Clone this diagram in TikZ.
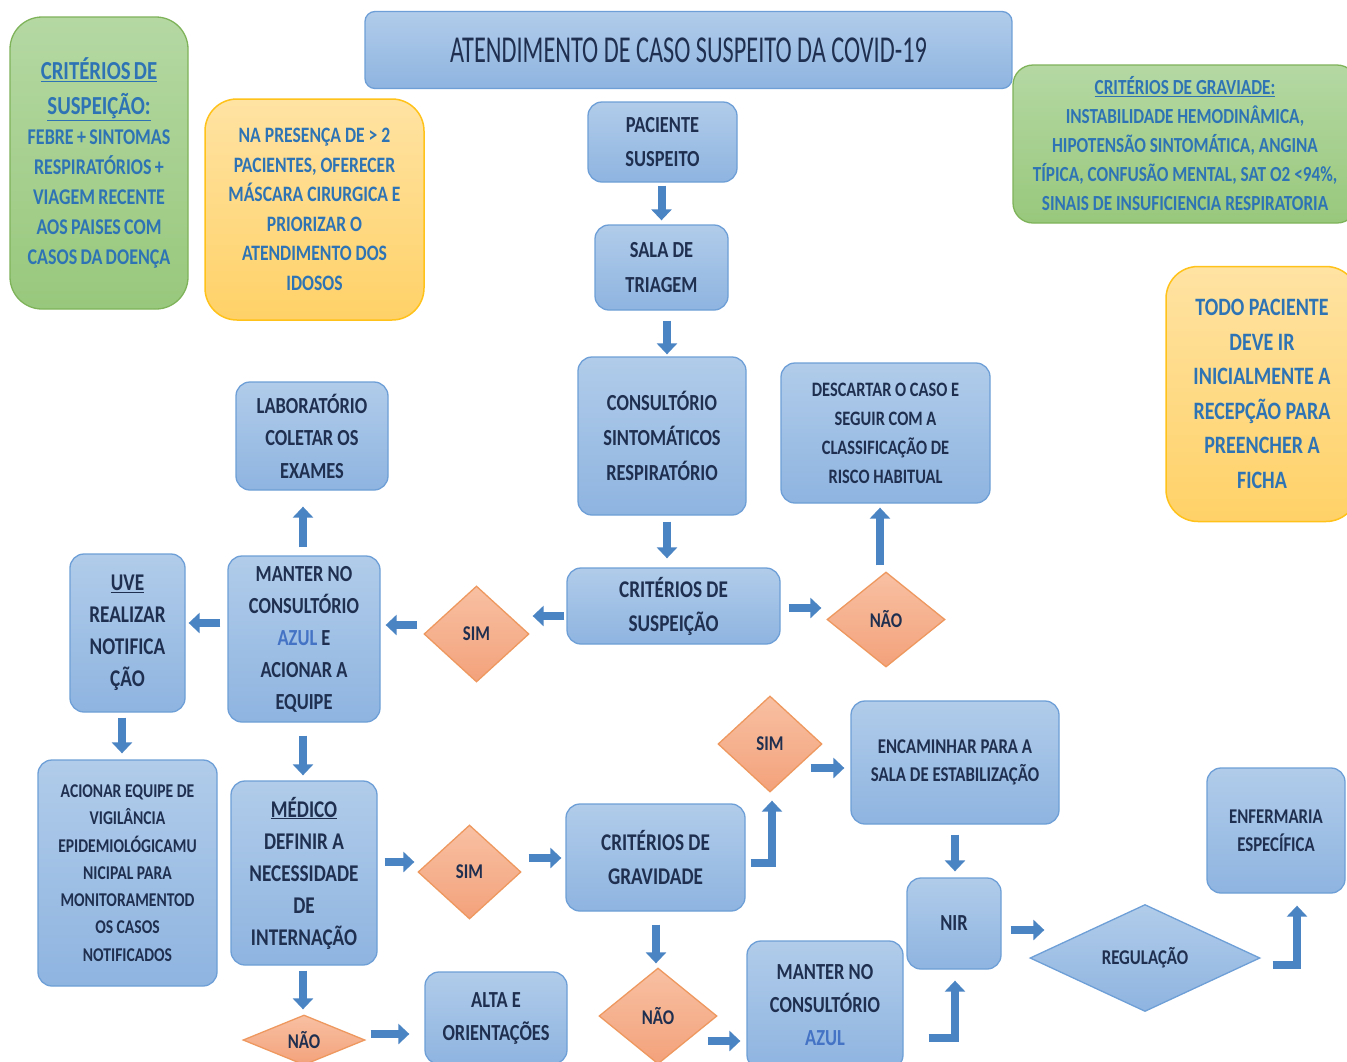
\documentclass[tikz,border=0pt]{standalone}
\usepackage{fontspec}
\setmainfont{Carlito}[FakeStretch=0.8]
\newfontfamily\tfont{Carlito}[FakeStretch=0.64]
\usetikzlibrary{shapes.geometric,arrows.meta,calc}
\definecolor{btop}{HTML}{B1CCEA}
\definecolor{bbot}{HTML}{8EB4E0}
\definecolor{bline}{HTML}{6E9FD6}
\definecolor{navy}{HTML}{1F2F4F}
\definecolor{otop}{HTML}{F8C0A2}
\definecolor{obot}{HTML}{F3A27B}
\definecolor{oline}{HTML}{EE985F}
\definecolor{gtop}{HTML}{B5D8A3}
\definecolor{gbot}{HTML}{98C87C}
\definecolor{gline}{HTML}{7FB35A}
\definecolor{ytop}{HTML}{FFE3A3}
\definecolor{ybot}{HTML}{FFD167}
\definecolor{yline}{HTML}{FFC21A}
\definecolor{infotxt}{HTML}{2E74B5}
\definecolor{azul}{HTML}{4472C4}
\definecolor{arr}{HTML}{4A84C2}
\newcommand{\fsz}[2]{\fontsize{#1}{#2}\selectfont}
\tikzset{
  bbox/.style={draw=bline, line width=1.3pt, rounded corners=14pt, top color=btop, bottom color=bbot,
    align=center, text=navy, font=\bfseries, inner sep=0pt},
  ddia/.style={diamond, draw=oline, line width=1.3pt, top color=otop, bottom color=obot,
    align=center, text=navy, font=\bfseries\fsz{21}{24}, inner sep=0pt},
  gbox/.style={draw=gline, line width=1.3pt, top color=gtop, bottom color=gbot,
    align=center, text=infotxt, font=\bfseries, inner sep=0pt},
  ybox/.style={draw=yline, line width=1.5pt, top color=ytop, bottom color=ybot,
    align=center, text=infotxt, font=\bfseries, inner sep=0pt},
  barrow/.style={draw=arr, line width=8pt, -{Triangle[length=11pt,width=20pt]}},
}
\begin{document}
\begin{tikzpicture}[x=1pt,y=-1pt]
\clip (0,0) rectangle (1347,1061);
\fill[white] (0,0) rectangle (1347,1061);

% title and info boxes
\node[bbox, font=\tfont\fsz{38}{40}, rounded corners=10pt, minimum width=647pt, minimum height=77pt] (title) at (688.5,50) {ATENDIMENTO DE CASO SUSPEITO DA COVID-19};

\node[gbox, rounded corners=32pt, minimum width=178pt, minimum height=292pt, text width=176pt] (gl) at (99,163)
 {\fsz{26}{35}\underline{CRITÉRIOS DE}\\\underline{SUSPEIÇÃO:}\par
  \fsz{22.5}{30}FEBRE + SINTOMAS\\RESPIRATÓRIOS +\\VIAGEM RECENTE\\AOS PAISES COM\\CASOS DA DOENÇA\par};

\node[ybox, rounded corners=32pt, minimum width=219pt, minimum height=221pt, font=\bfseries\fsz{22}{29.5}] (yl) at (314.5,209.5)
 {NA PRESENÇA DE > 2\\PACIENTES, OFERECER\\MÁSCARA CIRURGICA E\\PRIORIZAR O\\ATENDIMENTO DOS\\IDOSOS};

\node[gbox, rounded corners=20pt, minimum width=344pt, minimum height=158pt, font=\bfseries\fsz{21.5}{29}] (gr) at (1185,144)
 {\underline{CRITÉRIOS DE GRAVIADE:}\\INSTABILIDADE HEMODINÂMICA,\\HIPOTENSÃO SINTOMÁTICA, ANGINA\\TÍPICA, CONFUSÃO MENTAL, SAT O2 <94\%,\\SINAIS DE INSUFICIENCIA RESPIRATORIA};

\node[ybox, rounded corners=32pt, minimum width=192pt, minimum height=255pt, font=\bfseries\fsz{25}{34.5}] (yr) at (1262,394)
 {TODO PACIENTE\\DEVE IR\\INICIALMENTE A\\RECEPÇÃO PARA\\PREENCHER A\\FICHA};

% main flow
\node[bbox, minimum width=149pt, minimum height=80pt, font=\bfseries\fsz{23}{34}] (pac) at (662.5,142) {PACIENTE\\SUSPEITO};
\node[bbox, minimum width=133pt, minimum height=85pt, font=\bfseries\fsz{23}{35}] (tri) at (661.5,267.5) {SALA DE\\TRIAGEM};
\node[bbox, minimum width=168pt, minimum height=158pt, font=\bfseries\fsz{23}{35}] (cons) at (662,436) {CONSULTÓRIO\\SINTOMÁTICOS\\RESPIRATÓRIO};
\node[bbox, minimum width=209pt, minimum height=140pt, font=\bfseries\fsz{20.5}{29}] (desc) at (885.5,433) {DESCARTAR O CASO E\\SEGUIR COM A\\CLASSIFICAÇÃO DE\\RISCO HABITUAL};
\node[bbox, minimum width=152pt, minimum height=108pt, font=\bfseries\fsz{23}{32.5}] (lab) at (312,436) {LABORATÓRIO\\COLETAR OS\\EXAMES};
\node[bbox, minimum width=213pt, minimum height=76pt, font=\bfseries\fsz{24}{34}] (crit) at (673.5,606) {CRITÉRIOS DE\\SUSPEIÇÃO};
\node[ddia, minimum width=105pt, minimum height=96pt] (sim1) at (476.5,634) {SIM};
\node[ddia, minimum width=118pt, minimum height=95pt] (nao1) at (886,619.5) {NÃO};
\node[bbox, minimum width=152pt, minimum height=166pt, font=\bfseries\fsz{23}{32}] (man) at (304,639) {MANTER NO\\CONSULTÓRIO\\\textcolor{azul}{AZUL} E\\ACIONAR A\\EQUIPE};
\node[bbox, minimum width=115pt, minimum height=158pt, font=\bfseries\fsz{24}{32}] (uve) at (127.5,633) {\underline{UVE}\\REALIZAR\\NOTIFICA\\ÇÃO};
\node[bbox, minimum width=179pt, minimum height=226pt, font=\bfseries\fsz{19.5}{27.3}] (acion) at (127.5,873) {ACIONAR EQUIPE DE\\VIGILÂNCIA\\EPIDEMIOLÓGICAMU\\NICIPAL PARA\\MONITORAMENTOD\\OS CASOS\\NOTIFICADOS};
\node[bbox, minimum width=146pt, minimum height=184pt, font=\bfseries\fsz{24}{32}] (med) at (304,873) {\underline{MÉDICO}\\DEFINIR A\\NECESSIDADE\\DE\\INTERNAÇÃO};
\node[ddia, minimum width=103pt, minimum height=94pt] (sim2) at (469.5,872) {SIM};
\node[bbox, minimum width=179pt, minimum height=107pt, font=\bfseries\fsz{24}{34}] (grav) at (655.5,857.5) {CRITÉRIOS DE\\GRAVIDADE};
\node[ddia, minimum width=104pt, minimum height=96pt] (sim3) at (770,744) {SIM};
\node[bbox, minimum width=208pt, minimum height=123pt, font=\bfseries\fsz{21}{28}] (enc) at (955,762.5) {ENCAMINHAR PARA A\\SALA DE ESTABILIZAÇÃO};
\node[bbox, minimum width=94pt, minimum height=91pt, font=\bfseries\fsz{23}{30}] (nir) at (954,923.5) {NIR};
\node[diamond, draw=bline, line width=1.3pt, top color=btop, bottom color=bbot, text=navy, font=\bfseries\fsz{21}{24}, inner sep=0pt, minimum width=230pt, minimum height=96pt] (reg) at (1145,958) {REGULAÇÃO};
\node[bbox, minimum width=138pt, minimum height=125pt, font=\bfseries\fsz{21}{28}] (enf) at (1276,830.5) {ENFERMARIA\\ESPECÍFICA};
\node[ddia, minimum width=118pt, minimum height=96pt] (nao2) at (658,1016) {NÃO};
\node[bbox, minimum width=156pt, minimum height=128pt, font=\bfseries\fsz{23}{33}] (man2) at (825,1005) {MANTER NO\\CONSULTÓRIO\\\textcolor{azul}{AZUL}};
\node[ddia, minimum width=122pt, minimum height=50pt] (nao3) at (304,1040) {NÃO};
\node[bbox, minimum width=142pt, minimum height=92pt, font=\bfseries\fsz{23}{33}] (alta) at (496,1018) {ALTA E\\ORIENTAÇÕES};

% arrows
\draw[barrow] ($(pac.south)+(-1,3)$) -- ($(tri.north)+(0,-4)$);
\draw[barrow] ($(tri.south)+(5.5,10)$) -- ($(cons.north)+(5,-2)$);
\draw[barrow] ($(cons.south)+(5,6)$) -- ($(crit.north)+(-6.5,-9)$);
\draw[barrow] ($(crit.west)+(-2,10)$) -- ($(sim1.east)+(3,-18)$);
\draw[barrow] ($(crit.east)+(8,2)$) -- ($(nao1.west)+(-5,-11.5)$);
\draw[barrow] ($(nao1.north)+(-6,-6)$) -- ($(desc.south)+(-5.5,4)$);
\draw[barrow] ($(sim1.west)+(-6,-9)$) -- ($(man.east)+(5,-14)$);
\draw[barrow] ($(man.north)+(-1,-8)$) -- ($(lab.south)+(-9,16)$);
\draw[barrow] ($(man.west)+(-7,-16)$) -- ($(uve.east)+(3,-10)$);
\draw[barrow] ($(uve.south)+(-5.5,5)$) -- ($(acion.north)+(-5.5,-6)$);
\draw[barrow] ($(man.south)+(-1,13)$) -- ($(med.north)+(-1,-5)$);
\draw[barrow] ($(med.east)+(7,-11)$) -- ($(sim2.west)+(-3,-10)$);
\draw[barrow] ($(sim2.east)+(7,-14)$) -- ($(grav.west)+(-4,0.5)$);
\draw[barrow] ($(grav.east)+(5,5.5)$) -| ($(sim3.south)+(2,8)$);
\draw[barrow] ($(sim3.east)+(-12,24)$) -- ($(enc.west)+(-6,5.5)$);
\draw[barrow] ($(enc.south)+(0,10)$) -- ($(nir.north)+(1,-6)$);
\draw[barrow] ($(grav.south)+(0.5,13)$) -- ($(nao2.north)+(-2,-4)$);
\draw[barrow] ($(nao2.east)+(-10,25)$) -- ($(man2.west)+(-6,36)$);
\draw[barrow] ($(man2.east)+(25,33)$) -| ($(nir.south)+(1,11)$);
\draw[barrow] ($(nir.east)+(9,6.5)$) -- ($(reg.west)+(15,-28)$);
\draw[barrow] ($(reg.east)+(12,7)$) -| ($(enf.south)+(21,12)$);
\draw[barrow] ($(med.south)+(-1,5)$) -- ($(nao3.north)+(-1,-5)$);
\draw[barrow] ($(nao3.east)+(5,-6)$) -- ($(alta.west)+(-15,16)$);
\end{tikzpicture}
\end{document}
